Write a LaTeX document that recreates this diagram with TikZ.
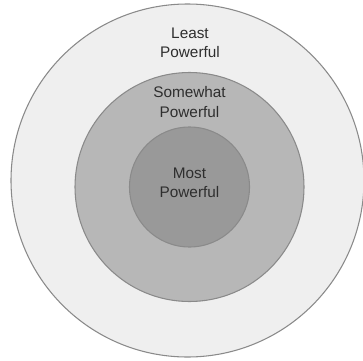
\documentclass[tikz,border=0pt]{standalone}
\usepackage{fontspec}
\setmainfont{Liberation Sans}
\usepackage{xcolor}
\definecolor{ringlight}{HTML}{EFEFEF}
\definecolor{ringmid}{HTML}{B7B7B7}
\definecolor{ringdark}{HTML}{999999}
\definecolor{ringline}{HTML}{8A8A8A}
\definecolor{labeltext}{HTML}{2E2E2E}
\tikzset{
    ring/.style={circle,draw=ringline,line width=0.8pt,inner sep=0pt},
    ringlabel/.style={align=center,text=labeltext,font=\fontsize{11.5pt}{14.3pt}\selectfont,inner sep=0pt}
}

\begin{document}
\begin{tikzpicture}[x=0.75pt,y=-0.75pt]
    \useasboundingbox (0,0) rectangle (363,360);
    \clip (0,0) rectangle (363,360);

    \node[ring,fill=ringlight,minimum size=353*0.75pt] (least) at (187.5,180.5) {};
    \node[ring,fill=ringmid,minimum size=229*0.75pt] (somewhat) at (189.5,187) {};
    \node[ring,fill=ringdark,minimum size=120*0.75pt] (most) at (189.5,187) {};

    \node[ringlabel] (leastlabel) at (190,43) {Least\\Powerful};
    \node[ringlabel] (somewhatlabel) at (189.5,102) {Somewhat\\Powerful};
    \node[ringlabel] (mostlabel) at (189.5,182.5) {Most\\Powerful};

\end{tikzpicture}
\end{document}
